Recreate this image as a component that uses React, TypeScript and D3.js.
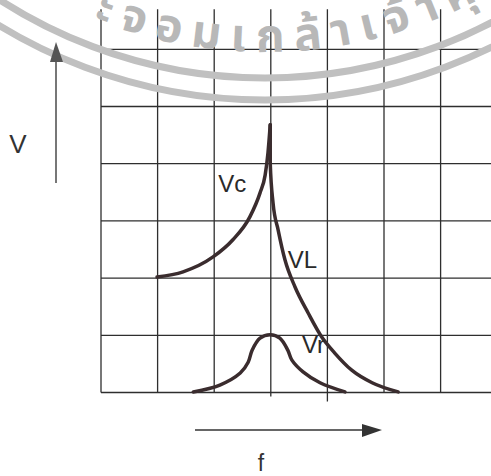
import React from "react";
import * as d3 from "d3";

// Grid divisions (frequency columns, voltage rows)
const colLines = [0, 1, 2, 3, 4, 5, 6];
const rowLines = [0, 1, 2, 3, 4, 5, 6];

// Voltage curves vs frequency, in grid units [f, V]
const vcPoints: [number, number][] = [
  [0.99, 2.02], [1.45, 2.11], [1.98, 2.37], [2.33, 2.67], [2.63, 3.07],
  [2.81, 3.49], [2.9, 3.8], [2.95, 4.19], [2.99, 4.68],
];
const vlPoints: [number, number][] = [
  [2.99, 4.68], [2.99, 4.01], [3.04, 3.31], [3.13, 2.84], [3.25, 2.32],
  [3.43, 1.84], [3.66, 1.39], [3.9, 0.97], [4.13, 0.69], [4.43, 0.39],
  [4.79, 0.17], [5.25, 0.01],
];
const vrPoints: [number, number][] = [
  [1.63, 0.01], [2.1, 0.13], [2.46, 0.34], [2.6, 0.53], [2.67, 0.74],
  [2.81, 0.95], [2.99, 1.01], [3.16, 0.95], [3.3, 0.74], [3.37, 0.57],
  [3.57, 0.36], [3.87, 0.17], [4.31, 0.01],
];

const curveLabels = [
  { text: "Vc", f: 2.07, v: 3.5 },
  { text: "VL", f: 3.3, v: 2.18 },
  { text: "Vr", f: 3.55, v: 0.69 },
];

const sealText = "ะจอมเกล้าเจ้าคุณ";

export default function App() {
  const W = 491;
  const H = 476;
  const x = d3.scaleLinear().domain([0, 1]).range([101, 157.6]);
  const y = d3.scaleLinear().domain([0, 1]).range([392.5, 335.3]);

  const smooth = d3
    .line<[number, number]>()
    .x((d) => x(d[0]))
    .y((d) => y(d[1]))
    .curve(d3.curveMonotoneX);
  const bell = d3
    .line<[number, number]>()
    .x((d) => x(d[0]))
    .y((d) => y(d[1]))
    .curve(d3.curveCatmullRom.alpha(0.5));

  // seal watermark geometry
  const cx = 265;
  const cy = -411;
  const arc = (r: number, a: number) => {
    const s = (a * Math.PI) / 180;
    const x0 = cx - r * Math.sin(s);
    const x1 = cx + r * Math.sin(s);
    const yy = cy + r * Math.cos(s);
    return `M${x0},${yy} A${r},${r} 0 0 0 ${x1},${yy}`;
  };

  const gridColor = "#2e2e2e";
  const curveColor = "#3a2c2e";
  const extend: Record<number, number> = { 3: 4, 4: 9 };

  return (
    <svg
      width={W}
      height={H}
      style={{ position: "absolute", left: 0, top: 0, background: "#fff" }}
      fontFamily="'Liberation Sans', Arial, sans-serif"
    >
      <defs>
        <path id="sealPath" d={arc(463, 40)} />
      </defs>

      {/* grid */}
      {colLines.map((c) => (
        <line
          key={"c" + c}
          x1={x(c)}
          x2={x(c)}
          y1={y(6.7)}
          y2={y(0) + (extend[c] || 0)}
          stroke={gridColor}
          strokeWidth={1.3}
        />
      ))}
      {rowLines.map((r) => (
        <line
          key={"r" + r}
          x1={x(0)}
          x2={W}
          y1={y(r)}
          y2={y(r)}
          stroke={gridColor}
          strokeWidth={1.3}
        />
      ))}

      {/* seal watermark */}
      <g>
        <path d={arc(489, 40)} fill="none" stroke="#c0c0c0" strokeWidth={7} />
        <path d={arc(511, 40)} fill="none" stroke="#c0c0c0" strokeWidth={7} />
        <text
          fontSize={46}
          fontWeight={700}
          fill="#b8b8b8"
          letterSpacing={10.5}
          fontFamily="'Noto Sans Thai', 'Noto Sans', sans-serif"
        >
          <textPath href="#sealPath" startOffset={147}>
            {sealText}
          </textPath>
        </text>
      </g>

      {/* curves */}
      <path d={smooth(vcPoints) || ""} fill="none" stroke={curveColor} strokeWidth={3.5} strokeLinecap="round" />
      <path d={smooth(vlPoints) || ""} fill="none" stroke={curveColor} strokeWidth={3.5} strokeLinecap="round" />
      <path d={bell(vrPoints) || ""} fill="none" stroke={curveColor} strokeWidth={3.5} strokeLinecap="round" />

      {curveLabels.map((l) => (
        <text key={l.text} x={x(l.f)} y={y(l.v)} fontSize={24} fill="#2a2a2a">
          {l.text}
        </text>
      ))}

      {/* axis arrows */}
      <line x1={56} x2={56} y1={183} y2={60} stroke="#555" strokeWidth={1.6} />
      <path d="M56,42 L50,62 L63,62 Z" fill="#555" />
      <text x={18} y={153} fontSize={26} fill="#333" textAnchor="middle">
        V
      </text>

      <line x1={195} x2={365} y1={430} y2={430} stroke="#333" strokeWidth={1.6} />
      <path d="M382,430 L362,424 L362,437 Z" fill="#333" />
      <text x={261} y={471} fontSize={23} fill="#333" textAnchor="middle">
        f
      </text>
    </svg>
  );
}
